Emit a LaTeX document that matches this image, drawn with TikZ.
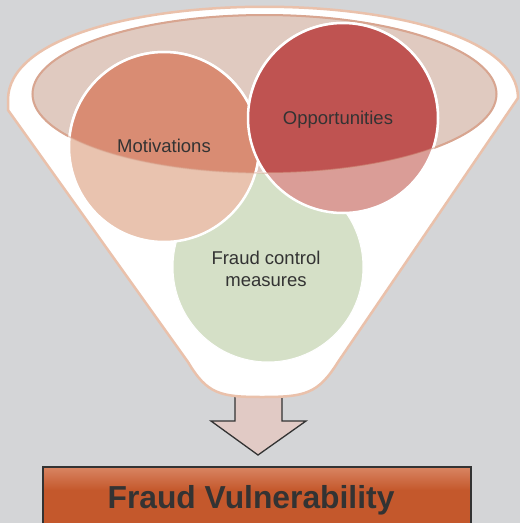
\documentclass[tikz,border=0pt]{standalone}
\usepackage{fontspec}
\setmainfont{Liberation Sans}
\usetikzlibrary{shapes.geometric}
\definecolor{bgc}{HTML}{D4D5D7}
\definecolor{funnelline}{HTML}{EAC1AB}
\definecolor{mouthfill}{HTML}{E0CAC0}
\definecolor{mouthline}{HTML}{D8A590}
\definecolor{motlight}{HTML}{E9C3AF}
\definecolor{motdark}{HTML}{D98C73}
\definecolor{opplight}{HTML}{DA9D97}
\definecolor{oppdark}{HTML}{BF5351}
\definecolor{greenc}{HTML}{D5E0C7}
\definecolor{arrowfill}{HTML}{E1CAC5}
\definecolor{darkline}{HTML}{333333}
\definecolor{txt}{HTML}{333333}
\definecolor{boxtop}{HTML}{D98563}
\definecolor{boxbot}{HTML}{C4582C}
\begin{document}
\begin{tikzpicture}[x=1pt,y=-1pt,
  bubble/.style={circle, minimum size=190pt, inner sep=0pt, draw=white, line width=2.5pt},
  lbl/.style={font=\fontsize{18.5}{22}\selectfont, text=txt, inner sep=0pt, align=center}]
\useasboundingbox (0,0) rectangle (520,523);
\clip (0,0) rectangle (520,523);
\fill[bgc] (0,0) rectangle (520,523);
% arrow
\filldraw[fill=arrowfill, draw=darkline, line width=1.3pt, line join=miter]
  (235,388) -- (235,421) -- (211,421) -- (258,455) -- (306,421) -- (282,421) -- (282,388) -- cycle;
% funnel
\filldraw[fill=white, draw=funnelline, line width=2.5pt, line join=round]
  (8,110) -- (8,100) .. controls (8,-24) and (518,-24) .. (518,98)
  -- (338,362) .. controls (318,394) and (305,397) .. (262,397)
  .. controls (220,397) and (207,394) .. (188,362) -- cycle;
% mouth ellipse
\filldraw[fill=mouthfill, draw=mouthline, line width=2pt] (264.5,94) ellipse [x radius=232, y radius=79];
% circles
\node[bubble, fill=greenc, line width=1pt] (fcm) at (268,267) {};
\node[bubble, fill=motlight] (mot) at (164,147) {};
\node[bubble, fill=opplight] (opp) at (343,118) {};
\begin{scope}
  \clip (264.5,94) ellipse [x radius=232, y radius=79];
  \node[bubble, fill=motdark] (motin) at (164,147) {};
  \node[bubble, fill=oppdark] (oppin) at (343,118) {};
\end{scope}
\draw[mouthline, line width=1.5pt, opacity=0.45] (264.5,94) ellipse [x radius=232, y radius=79];
% labels
\node[lbl, anchor=base] (motT) at (164,152) {Motivations};
\node[lbl, anchor=base] (oppT) at (338,124) {Opportunities};
\node[lbl] (fcmT) at (266,269) {Fraud control\\measures};
% result box
\node[fill=boxbot, minimum width=428pt, minimum height=60pt, inner sep=0pt] (box) at (257,497) {};
\shade[top color=boxtop, bottom color=boxbot] (box.north west) rectangle (471,490);
\draw[darkline, line width=1.5pt] (box.north west) rectangle (box.south east);
\node[font=\bfseries\fontsize{31.8}{38}\selectfont, text=txt, anchor=base, inner sep=0pt] (boxT) at (251,508) {Fraud Vulnerability};
\end{tikzpicture}
\end{document}
